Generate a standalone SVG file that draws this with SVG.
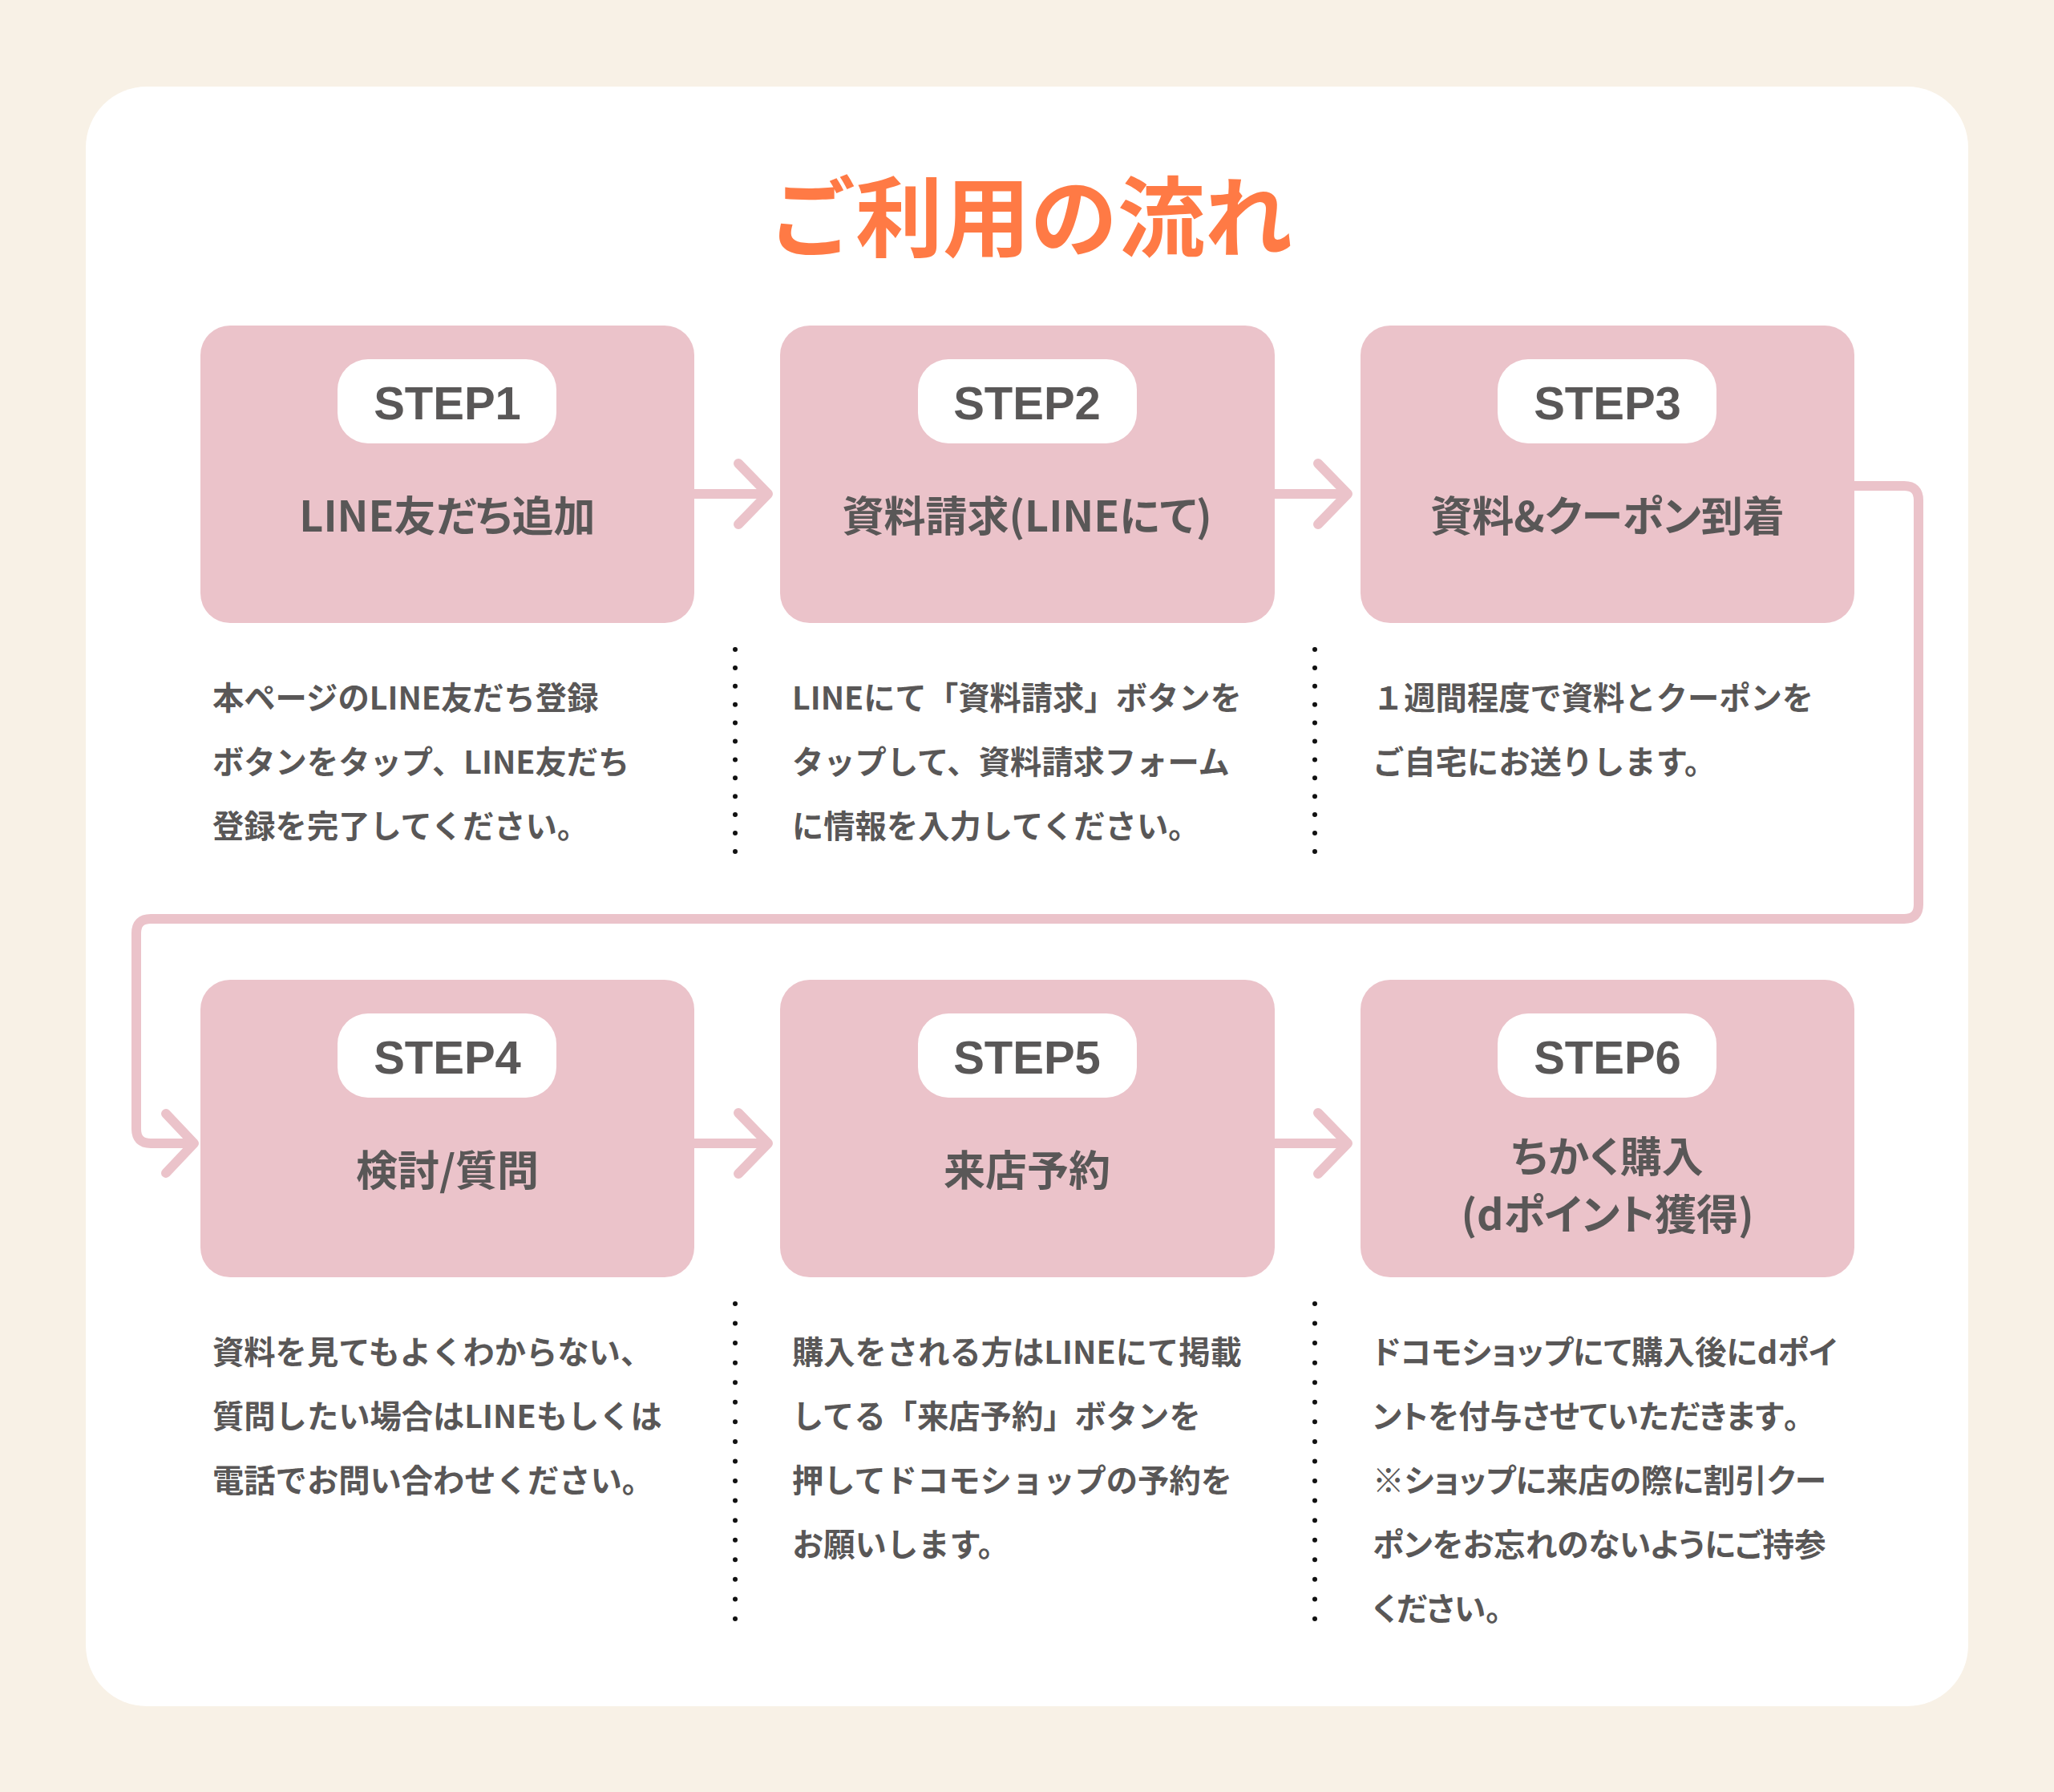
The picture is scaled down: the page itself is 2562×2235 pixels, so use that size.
<svg xmlns="http://www.w3.org/2000/svg" width="2562" height="2235" viewBox="0 0 2562 2235">
  <style>
    .box { fill: #EBC3CA; }
    .pill { fill: #FFFFFF; }
    .step { font-family: "Liberation Sans", Arial, sans-serif; font-weight: 700; font-size: 58px; fill: #595757; text-anchor: middle; }
    .label { font-family: "Noto Sans CJK JP", "Noto Sans", sans-serif; font-weight: 700; font-size: 52px; fill: #595757; text-anchor: middle; font-feature-settings: "palt"; }
    .desc { font-family: "Noto Sans CJK JP", "Noto Sans", sans-serif; font-weight: 700; font-size: 39.3px; fill: #595757; }
    .descp { font-family: "Noto Sans CJK JP", "Noto Sans", sans-serif; font-weight: 700; font-size: 39.6px; fill: #595757; font-feature-settings: "palt"; }
    .fw { font-feature-settings: normal; }
    .title { font-family: "Noto Sans CJK JP", sans-serif; font-weight: 700; font-size: 109px; fill: #FF7A45; text-anchor: middle; }
    .conn { fill: none; stroke: #EBC3CA; stroke-width: 12; stroke-linecap: round; stroke-linejoin: round; }
    .dots { fill: none; stroke: #111111; stroke-width: 6; stroke-linecap: round; }
  </style>

  <rect x="0" y="0" width="2562" height="2235" fill="#F8F1E6"/>
  <rect x="107" y="108" width="2348" height="2020" rx="76" ry="76" fill="#FFFFFF"/>

  <text class="title" x="1285" y="312">ご利用の流れ</text>

  <g id="connectors">
    <path class="conn" d="M 866 616 H 957 M 921 578 L 958 616 L 921 654"/>
    <path class="conn" d="M 1590 616 H 1680 M 1644 578 L 1681 616 L 1644 654"/>
    <path class="conn" stroke-linecap="butt" d="M 2313 606 H 2375 Q 2393 606 2393 624 V 1128 Q 2393 1146 2375 1146 H 188 Q 170 1146 170 1164 V 1408 Q 170 1426 188 1426 H 240"/>
    <path class="conn" d="M 207 1389 L 242 1426 L 207 1463"/>
    <path class="conn" d="M 866 1426 H 957 M 921 1388 L 958 1426 L 921 1464"/>
    <path class="conn" d="M 1590 1426 H 1680 M 1644 1388 L 1681 1426 L 1644 1464"/>
    <g class="dots" stroke-dasharray="0 22.9">
      <line x1="917" y1="810" x2="917" y2="1063"/>
      <line x1="1640" y1="810" x2="1640" y2="1063"/>
    </g>
    <g class="dots" stroke-dasharray="0 24.56">
      <line x1="917" y1="1626" x2="917" y2="2020"/>
      <line x1="1640" y1="1626" x2="1640" y2="2020"/>
    </g>
  </g>

  <g id="step1">
    <rect class="box" x="250" y="406" width="616" height="371" rx="37"/>
    <rect class="pill" x="421" y="448" width="273" height="105" rx="38"/>
    <text class="step" x="558" y="523">STEP1</text>
    <text class="label" x="558" y="663">LINE友だち追加</text>
    <text class="desc" x="265" y="885">本ページのLINE友だち登録</text>
    <text class="desc" x="265" y="965">ボタンをタップ、LINE友だち</text>
    <text class="desc" x="265" y="1045">登録を完了してください。</text>
  </g>

  <g id="step2">
    <rect class="box" x="973" y="406" width="617" height="371" rx="37"/>
    <rect class="pill" x="1145" y="448" width="273" height="105" rx="38"/>
    <text class="step" x="1281" y="523">STEP2</text>
    <text class="label" x="1281" y="663">資料請求(LINEにて)</text>
    <text class="desc" x="988" y="885">LINEにて「資料請求」ボタンを</text>
    <text class="desc" x="988" y="965">タップして、資料請求フォーム</text>
    <text class="desc" x="988" y="1045">に情報を入力してください。</text>
  </g>

  <g id="step3">
    <rect class="box" x="1697" y="406" width="616" height="371" rx="37"/>
    <rect class="pill" x="1868" y="448" width="273" height="105" rx="38"/>
    <text class="step" x="2005" y="523">STEP3</text>
    <text class="label" x="2005" y="663">資料&amp;クーポン到着</text>
    <text class="desc" x="1712" y="885">１週間程度で資料とクーポンを</text>
    <text class="desc" x="1712" y="965">ご自宅にお送りします。</text>
  </g>

  <g id="step4">
    <rect class="box" x="250" y="1222" width="616" height="371" rx="37"/>
    <rect class="pill" x="421" y="1264" width="273" height="105" rx="38"/>
    <text class="step" x="558" y="1339">STEP4</text>
    <text class="label" x="558" y="1479">検討/質問</text>
    <text class="desc" x="265" y="1701">資料を見てもよくわからない、</text>
    <text class="desc" x="265" y="1781">質問したい場合はLINEもしくは</text>
    <text class="desc" x="265" y="1861">電話でお問い合わせください。</text>
  </g>

  <g id="step5">
    <rect class="box" x="973" y="1222" width="617" height="371" rx="37"/>
    <rect class="pill" x="1145" y="1264" width="273" height="105" rx="38"/>
    <text class="step" x="1281" y="1339">STEP5</text>
    <text class="label" x="1281" y="1479">来店予約</text>
    <text class="desc" x="988" y="1701">購入をされる方はLINEにて掲載</text>
    <text class="desc" x="988" y="1781">してる「来店予約」ボタンを</text>
    <text class="desc" x="988" y="1861">押してドコモショップの予約を</text>
    <text class="desc" x="988" y="1941">お願いします。</text>
  </g>

  <g id="step6">
    <rect class="box" x="1697" y="1222" width="616" height="371" rx="37"/>
    <rect class="pill" x="1868" y="1264" width="273" height="105" rx="38"/>
    <text class="step" x="2005" y="1339">STEP6</text>
    <text class="label" x="2005" y="1462">ちかく購入</text>
    <text class="label" x="2005" y="1534">(dポイント獲得)</text>
    <text class="descp" x="1712" y="1701">ドコモショップにて購入後にdポイ</text>
    <text class="descp" x="1712" y="1781">ントを付与させていただきます<tspan class="fw">。</tspan></text>
    <text class="descp" x="1712" y="1861"><tspan class="fw">※</tspan>ショップに来店の際に割引クー</text>
    <text class="descp" x="1712" y="1941">ポンをお忘れのないようにご持参</text>
    <text class="descp" x="1712" y="2021">ください<tspan class="fw">。</tspan></text>
  </g>
</svg>
